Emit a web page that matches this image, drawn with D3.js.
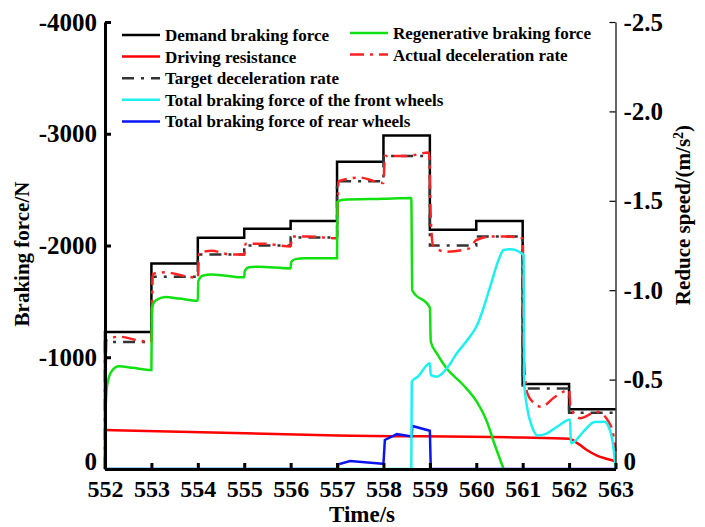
<!DOCTYPE html>
<html>
<head>
<meta charset="utf-8">
<script src="https://cdn.jsdelivr.net/npm/d3@7"></script>
<style>
  body { margin: 0; background: #fff; }
  svg text { font-family: "Liberation Serif", "Times New Roman", serif; font-weight: bold; }
</style>
</head>
<body>
<div id="chart"></div>
<script>
// step data, one value per second (552..563)
const stepTimes = [552, 553, 554, 555, 556, 557, 558, 559, 560, 561, 562, 563];
const demandForce = [-1225, -1840, -2070, -2150, -2220, -2750, -2985, -2140, -2220, -760, -535];
const targetDecel = [-0.71, -1.075, -1.2, -1.25, -1.295, -1.61, -1.75, -1.25, -1.3, -0.45, -0.315];

// actual deceleration rate (m/s^2)
const actualT = [552, 552.03, 552.3, 552.7, 553, 553.03, 553.3, 553.7, 554, 554.03, 554.3, 554.7, 555, 555.03, 555.4, 556, 556.03, 556.4, 557,
  557.03, 557.5, 557.8, 558, 558.03, 558.5, 558.98, 559.02, 559.07, 559.35, 559.85, 560, 560.3, 560.7, 561, 561.03, 561.1, 561.25, 561.4, 561.7, 562,
  562.03, 562.24, 562.6, 562.85, 562.96, 563];
const actualDecel = [0, -0.72, -0.74, -0.72, -0.71, -1.09, -1.1, -1.08, -1.07, -1.21, -1.22, -1.2, -1.2, -1.26, -1.26, -1.245, -1.3, -1.3, -1.29,
  -1.61, -1.63, -1.61, -1.6, -1.75, -1.75, -1.77, -1.4, -1.25, -1.215, -1.234, -1.28, -1.3, -1.3, -1.29, -0.6, -0.423, -0.367, -0.348, -0.404, -0.442,
  -0.348, -0.284, -0.32, -0.265, -0.18, -0.1];

// driving resistance (N)
const resistT = [552, 557, 561, 562, 562.2, 562.4, 562.6, 562.8, 563];
const resistF = [-350, -300, -282, -270, -225, -165, -120, -92, -70];

// regenerative braking force (N)
const regenT = [552, 552.01, 552.05, 552.15, 552.3, 552.6, 553, 553.01, 553.1, 553.3, 553.6, 554, 554.01, 554.1, 554.3, 554.6, 555,
  555.01, 555.1, 555.3, 556, 556.01, 556.1, 556.3, 557, 557.01, 557.1, 558, 558.6, 558.62, 559, 559.02, 559.15, 559.36, 559.72, 560.01, 560.23, 560.4, 560.59];
const regenF = [0, -500, -760, -880, -920, -905, -885, -1440, -1510, -1540, -1525, -1505, -1680, -1730, -1740, -1730, -1715,
  -1770, -1805, -1810, -1795, -1850, -1878, -1885, -1885, -2390, -2408, -2418, -2425, -1600, -1443, -1139, -1035, -901, -752, -602, -423, -215, 0];

// total braking force of the front wheels (N)
const frontT = [552, 557, 557.02, 557.05, 558.6, 558.61, 558.75, 559, 559.02, 559.15, 559.4, 559.58, 559.8, 560, 560.05, 560.3, 560.48, 560.59,
  560.73, 561.02, 561.03, 561.1, 561.2, 561.32, 561.5, 561.75, 562.02, 562.04, 562.1, 562.3, 562.55, 562.76, 562.9, 562.98, 563];
const frontF = [0, 0, -45, 0, 0, -780, -830, -946, -840, -826, -920, -1035, -1150, -1273, -1318, -1631, -1870, -1960,
  -1966, -1915, -790, -540, -380, -300, -315, -380, -444, -230, -240, -330, -420, -423, -320, -100, 0];

// total braking force of rear wheels (N)
const rearT = [552, 557, 557.05, 557.28, 557.98, 558, 558.03, 558.29, 558.61, 558.62, 559, 559.02, 563];
const rearF = [0, 0, -45, -72, -47, -47, -260, -313, -290, -385, -343, 0, 0];

const xTicks = d3.range(552, 564);
const leftTicks = [0, -1000, -2000, -3000, -4000];
const rightTicks = [0, -0.5, -1.0, -1.5, -2.0, -2.5];

const W = 705, H = 527;
const svg = d3.select("#chart").append("svg")
  .attr("width", W).attr("height", H);

const x = d3.scaleLinear().domain([552, 563]).range([105, 615.5]);
const yL = d3.scaleLinear().domain([0, -4000]).range([469, 22]);
const yR = d3.scaleLinear().domain([0, -2.5]).range([469, 22]);

function pts(ts, vs) { return ts.map((t, i) => [t, vs[i]]); }
const stepPts = vs => [[552, 0]].concat(vs.map((v, i) => [stepTimes[i], v])).concat([[563, vs[vs.length - 1]]]);

const lineL = d3.line().x(d => x(d[0])).y(d => yL(d[1]));
const stepL = d3.line().x(d => x(d[0])).y(d => yL(d[1])).curve(d3.curveStepAfter);
const stepR = d3.line().x(d => x(d[0])).y(d => yR(d[1])).curve(d3.curveStepAfter);
const smoothL = d3.line().x(d => x(d[0])).y(d => yL(d[1])).curve(d3.curveMonotoneX);
const smoothR = d3.line().x(d => x(d[0])).y(d => yR(d[1])).curve(d3.curveMonotoneX);

const series = [
  { name: "Demand braking force", path: stepL(stepPts(demandForce)), color: "#000", dash: null, w: 2.5 },
  { name: "Target deceleration rate", path: stepR(stepPts(targetDecel)), color: "#333", dash: "12,7,3,7", w: 2.5 },
  { name: "Actual deceleration rate", path: smoothR(pts(actualT, actualDecel)), color: "#f22", dash: "14,6,3,6", w: 2.5 },
  { name: "Driving resistance", path: smoothL(pts(resistT, resistF)), color: "#f00", dash: null, w: 2.5 },
  { name: "Regenerative braking force", path: smoothL(pts(regenT, regenF)), color: "#11e011", dash: null, w: 2.5 },
  { name: "Total braking force of rear wheels", path: lineL(pts(rearT, rearF)), color: "#0a14f0", dash: null, w: 2.5 },
  { name: "Total braking force of the front wheels", path: smoothL(pts(frontT, frontF)), color: "#1ef0f0", dash: null, w: 2.5 }
];

svg.append("g").selectAll("path")
  .data(series)
  .join("path")
    .attr("d", d => d.path)
    .attr("fill", "none")
    .attr("stroke", d => d.color)
    .attr("stroke-width", d => d.w)
    .attr("stroke-dasharray", d => d.dash);

// axes
const gx = svg.append("g").attr("transform", "translate(0,469)")
  .call(d3.axisBottom(x).tickValues(xTicks).tickSize(-6).tickSizeOuter(0).tickPadding(11).tickFormat(d3.format("d")));
const gl = svg.append("g").attr("transform", "translate(105,0)")
  .call(d3.axisLeft(yL).tickValues(leftTicks).tickSize(-6).tickSizeOuter(0).tickPadding(8).tickFormat(d => String(d)));
const gr = svg.append("g").attr("transform", "translate(615.5,0)")
  .call(d3.axisRight(yR).tickValues(rightTicks).tickSize(-6).tickSizeOuter(0).tickPadding(8).tickFormat(d => d === 0 ? "0" : d.toFixed(1)));

[gx, gl, gr].forEach(g => {
  g.selectAll("text").attr("fill", "#000").style("font-size", "24px");
  g.selectAll("line").attr("stroke", "#000");
  g.select(".domain").attr("stroke", "#000");
});
gl.selectAll("text").style("font-size", "25px");
gr.selectAll("text").style("font-size", "25px");
// lift the two zero labels clear of the time labels
gl.selectAll(".tick").filter(d => d === 0).select("text").attr("dy", "0em");
gr.selectAll(".tick").filter(d => d === 0).select("text").attr("dy", "0em");
gx.selectAll("line").attr("stroke-width", 3);
gl.selectAll("line").attr("stroke-width", 3);
gx.select(".domain").attr("stroke-width", 3);
gl.select(".domain").attr("stroke-width", 3);
gr.selectAll("line").attr("stroke-width", 1.2);
gr.select(".domain").attr("stroke-width", 1.2);

// axis titles
svg.append("text").attr("x", 362).attr("y", 522).attr("text-anchor", "middle")
  .style("font-size", "23px").text("Time/s");
svg.append("text").attr("transform", "translate(29,254) rotate(-90)").attr("text-anchor", "middle")
  .style("font-size", "21px").text("Braking force/N");
const rl = svg.append("text").attr("transform", "translate(690,215) rotate(-90)").attr("text-anchor", "middle")
  .style("font-size", "21px");
rl.append("tspan").text("Reduce speed/(m/s");
rl.append("tspan").attr("baseline-shift", "super").style("font-size", "14px").text("2");
rl.append("tspan").text(")");

// legend
const legendCol1 = ["Demand braking force", "Driving resistance", "Target deceleration rate",
  "Total braking force of the front wheels", "Total braking force of rear wheels"];
const legendCol2 = ["Regenerative braking force", "Actual deceleration rate"];
const legendLayout = [
  { names: legendCol1, x: 122, y: 35 },
  { names: legendCol2, x: 350, y: 33 }
];
legendLayout.forEach(col => {
  const g = svg.append("g").attr("transform", `translate(${col.x},${col.y})`);
  const item = g.selectAll("g").data(col.names).join("g")
    .attr("transform", (d, i) => `translate(0,${i * 21.6})`);
  item.append("line")
    .attr("x1", 0).attr("x2", 38).attr("y1", 0).attr("y2", 0)
    .attr("stroke", d => series.find(s => s.name === d).color)
    .attr("stroke-width", 2.5)
    .attr("stroke-dasharray", d => series.find(s => s.name === d).dash);
  item.append("text").attr("x", 43).attr("y", 6)
    .style("font-size", "17px").text(d => d);
});
</script>
</body>
</html>
